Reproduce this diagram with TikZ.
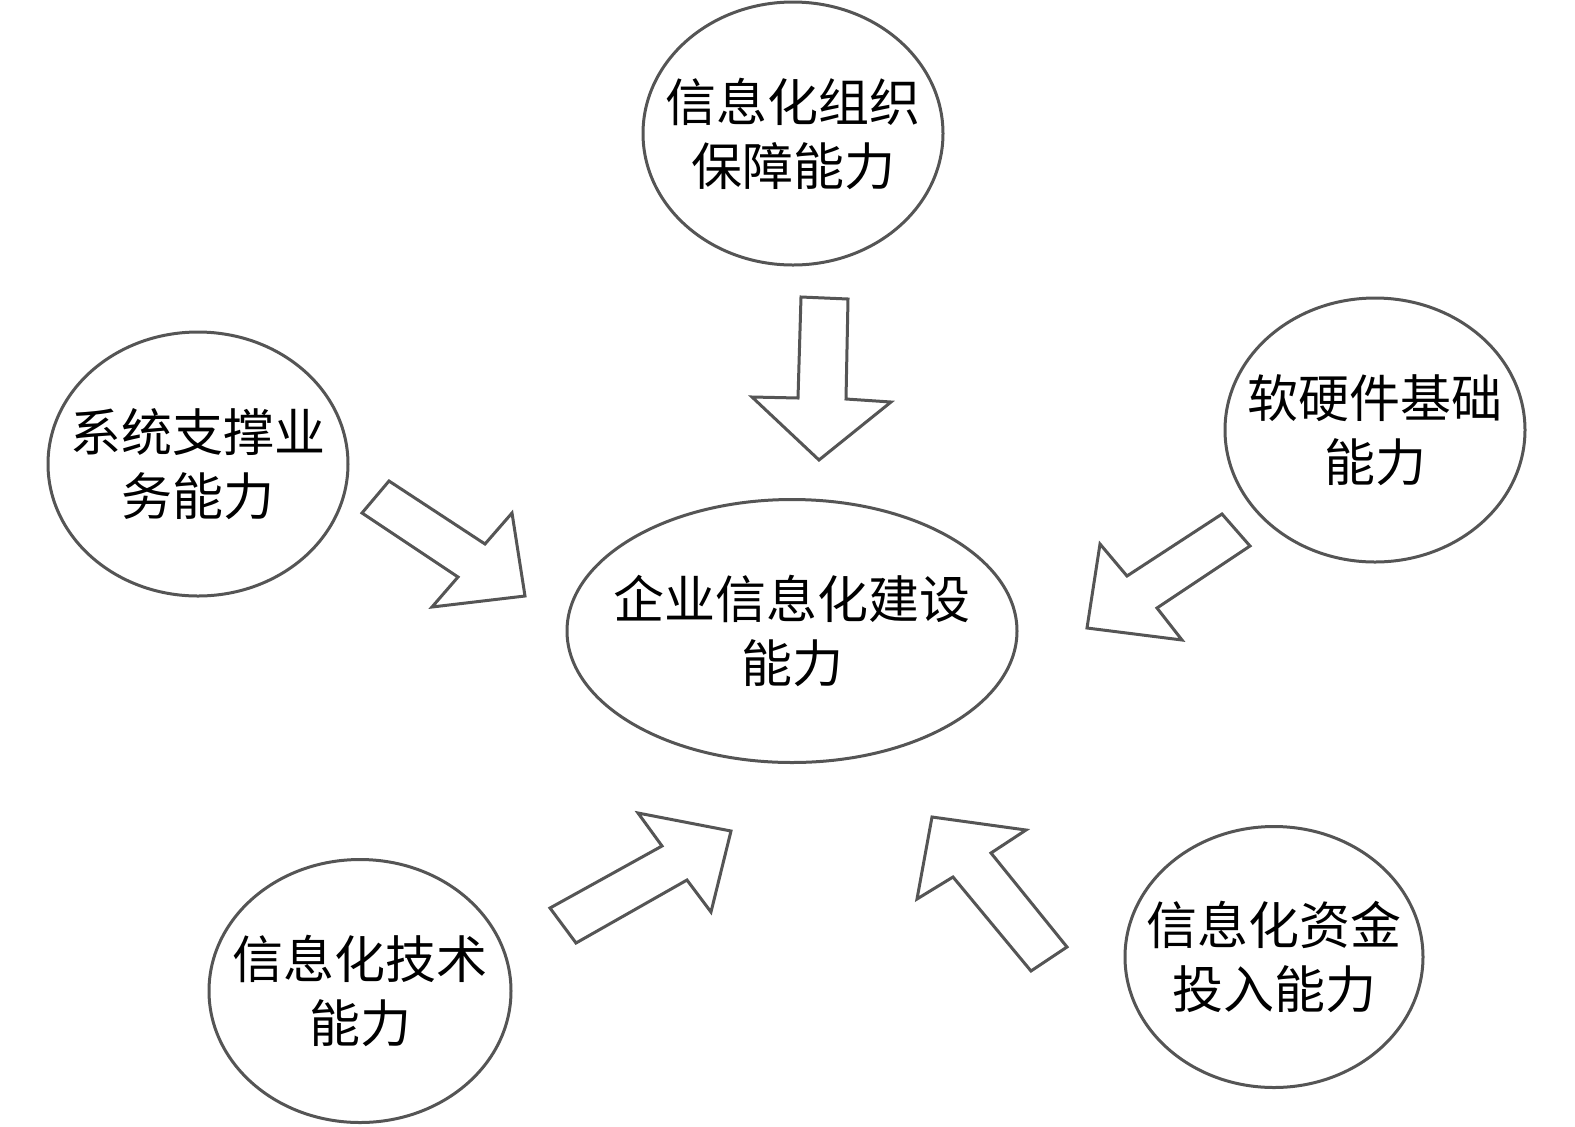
\documentclass[tikz,border=0pt]{standalone}
\usepackage{fontspec}
\newfontfamily\cjk{Noto Sans CJK SC}
\usetikzlibrary{shapes.geometric}
\definecolor{lc}{RGB}{85,85,85}
\begin{document}
\begin{tikzpicture}[x=0.5pt,y=-0.5pt,
  bub/.style={ellipse, draw=lc, line width=1.5pt, inner sep=0pt, fill=white},
  txt/.style={align=center, inner sep=0pt, font=\cjk\fontsize{25.5}{32}\selectfont, text=black},
  blk/.style={draw=lc, line width=1.5pt, fill=white}]
\useasboundingbox (0,0) rectangle (1575,1126);
% bubbles
\node[bub, minimum width=150pt, minimum height=131.5pt] (top) at (793,133.5) {};
\node[txt] (toptxt) at (top) {信息化组织\\保障能力};
\node[bub, minimum width=150pt, minimum height=132pt] (left) at (198,464) {};
\node[txt] (lefttxt) at (left) {系统支撑业\\务能力};
\node[bub, minimum width=150pt, minimum height=132pt] (right) at (1375,430) {};
\node[txt] (righttxt) at (right) {软硬件基础\\能力};
\node[bub, minimum width=225pt, minimum height=131.5pt] (cen) at (792,631) {};
\node[txt] (centxt) at (cen) {企业信息化建设\\能力};
\node[bub, minimum width=151pt, minimum height=131.5pt] (bl) at (360,991) {};
\node[txt] (bltxt) at (bl) {信息化技术\\能力};
\node[bub, minimum width=149pt, minimum height=130.5pt] (br) at (1274,957) {};
\node[txt] (brtxt) at (br) {信息化资金\\投入能力};
% block arrows
\draw[blk] (801,297)--(848,299)--(846,399)--(891,402)--(819,460)--(752,397)--(798,398)--cycle;
\draw[blk] (389,481)--(485,544)--(512,513)--(525,596)--(432,607)--(458,577)--(362,513)--cycle;
\draw[blk] (1222,514)--(1250,546)--(1157,608)--(1182,640)--(1087,628)--(1100,544)--(1127,576)--cycle;
\draw[blk] (550,908)--(662,846)--(638,813)--(731,831)--(711,912)--(687,880)--(576,943)--cycle;
\draw[blk] (932,817)--(1026,830)--(991,853)--(1067,947)--(1031,971)--(953,877)--(917,899)--cycle;
\end{tikzpicture}
\end{document}
